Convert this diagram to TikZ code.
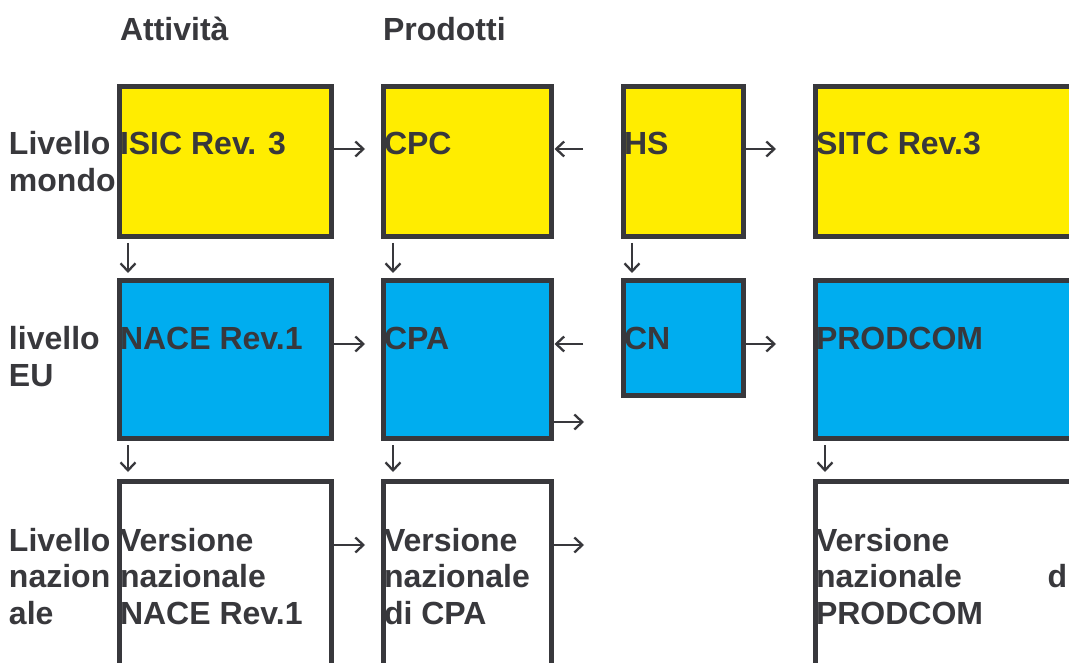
\documentclass[tikz,border=0pt]{standalone}
\usepackage{fontspec}
\setmainfont{Liberation Sans}
\usetikzlibrary{arrows.meta}
\definecolor{ink}{RGB}{56,56,60}
\definecolor{gialla}{RGB}{255,237,0}
\definecolor{azzurra}{RGB}{0,173,239}
\tikzset{
  box/.style={draw=ink, line width=5pt, anchor=north west, inner sep=0pt, outer sep=0pt},
  mondo/.style={box, fill=gialla},
  eu/.style={box, fill=azzurra},
  naz/.style={box, fill=white},
  lbl/.style={anchor=base west, inner sep=0pt, outer sep=0pt, text=ink,
    font=\fontsize{32}{36.7}\selectfont\bfseries},
  arr/.style={draw=ink, line width=2.3pt, -{Straight Barb[length=8pt,width=15pt]}},
}

\begin{document}
\begin{tikzpicture}[x=1pt, y=-1pt]
    \useasboundingbox (0,0) rectangle (1069,663);
    \fill[white] (0,0) rectangle (1069,663);
    \clip (0,0) rectangle (1069,663);
    % righe e colonne delle frecce
    \coordinate (r1) at (0,149);
    \coordinate (r2) at (0,344);
    \coordinate (r2b) at (0,422);
    \coordinate (r3) at (0,545);
    \coordinate (c1) at (128,0);
    \coordinate (c2) at (393,0);
    \coordinate (c3) at (632,0);
    \coordinate (c4) at (825,0);
    \coordinate (f2) at (584,422);
    \coordinate (f3) at (584,545);

    % livello mondo
    \node[mondo, minimum width=212pt, minimum height=150pt] (isic) at (119.5,86.5) {};
    \node[mondo, minimum width=168pt, minimum height=150pt] (cpc) at (383.5,86.5) {};
    \node[mondo, minimum width=120pt, minimum height=150pt] (hs) at (623.5,86.5) {};
    \node[mondo, minimum width=300pt, minimum height=150pt] (sitc) at (815.5,86.5) {};
    % livello EU
    \node[eu, minimum width=212pt, minimum height=158pt] (nace) at (119.5,280.5) {};
    \node[eu, minimum width=168pt, minimum height=158pt] (cpa) at (383.5,280.5) {};
    \node[eu, minimum width=120pt, minimum height=115pt] (cn) at (623.5,280.5) {};
    \node[eu, minimum width=300pt, minimum height=158pt] (prodcom) at (815.5,280.5) {};
    % livello nazionale
    \node[naz, minimum width=212pt, minimum height=250pt] (vnace) at (119.5,481.5) {};
    \node[naz, minimum width=168pt, minimum height=250pt] (vcpa) at (383.5,481.5) {};
    \node[naz, minimum width=300pt, minimum height=250pt] (vprod) at (815.5,481.5) {};

    % testi
    \node[lbl] (attivita) at (120,41) {Attività};
    \node[lbl] (prodotti) at (383,41) {Prodotti};
    \node[lbl] (lmondo) at (9,155) {\parbox[t]{110pt}{Livello\\mondo}};
    \node[lbl] (leu) at (9,349.5) {\parbox[t]{110pt}{livello\\EU}};
    \node[lbl] (lnaz) at (9,551) {\parbox[t]{110pt}{Livello\\nazion\\ale}};
    \node[lbl] (tisic) at (120,155) {ISIC Rev. 3};
    \node[lbl] (tcpc) at (384,155) {CPC};
    \node[lbl] (ths) at (624,155) {HS};
    \node[lbl] (tsitc) at (816,155) {SITC Rev.3};
    \node[lbl] (tnace) at (120,349.5) {NACE Rev.1};
    \node[lbl] (tcpa) at (384,349.5) {CPA};
    \node[lbl] (tcn) at (624,349.5) {CN};
    \node[lbl] (tprodcom) at (816,349.5) {PRODCOM};
    \node[lbl] (tvnace) at (120,551) {\parbox[t]{210pt}{Versione\\nazionale\\NACE Rev.1}};
    \node[lbl] (tvcpa) at (384,551) {\parbox[t]{166pt}{Versione\\nazionale\\di CPA}};
    \node[lbl] (tvprod) at (816,551) {\parbox[t]{260pt}{Versione\\nazionale\hfill di\\PRODCOM}};

    % frecce orizzontali
    \draw[arr, shorten <=2.5pt, shorten >=18.5pt] (isic.east |- r1) -- (cpc.west |- r1);
    \draw[arr, shorten <=40.5pt, shorten >=3pt] (hs.west |- r1) -- (cpc.east |- r1);
    \draw[arr, shorten <=2.5pt, shorten >=39.5pt] (hs.east |- r1) -- (sitc.west |- r1);
    \draw[arr, shorten <=2.5pt, shorten >=18.5pt] (nace.east |- r2) -- (cpa.west |- r2);
    \draw[arr, shorten <=40.5pt, shorten >=3pt] (cn.west |- r2) -- (cpa.east |- r2);
    \draw[arr, shorten <=2.5pt, shorten >=39.5pt] (cn.east |- r2) -- (prodcom.west |- r2);
    \draw[arr, shorten <=2.5pt] (cpa.east |- r2b) -- (f2);
    \draw[arr, shorten <=2.5pt, shorten >=18.5pt] (vnace.east |- r3) -- (vcpa.west |- r3);
    \draw[arr, shorten <=2.5pt] (vcpa.east |- r3) -- (f3);

    % frecce verticali
    \draw[arr, shorten <=6.5pt, shorten >=7.5pt] (isic.south -| c1) -- (nace.north -| c1);
    \draw[arr, shorten <=6.5pt, shorten >=7.5pt] (cpc.south -| c2) -- (cpa.north -| c2);
    \draw[arr, shorten <=6.5pt, shorten >=7.5pt] (hs.south -| c3) -- (cn.north -| c3);
    \draw[arr, shorten <=6.5pt, shorten >=9.5pt] (nace.south -| c1) -- (vnace.north -| c1);
    \draw[arr, shorten <=6.5pt, shorten >=9.5pt] (cpa.south -| c2) -- (vcpa.north -| c2);
    \draw[arr, shorten <=6.5pt, shorten >=9.5pt] (prodcom.south -| c4) -- (vprod.north -| c4);
\end{tikzpicture}
\end{document}
